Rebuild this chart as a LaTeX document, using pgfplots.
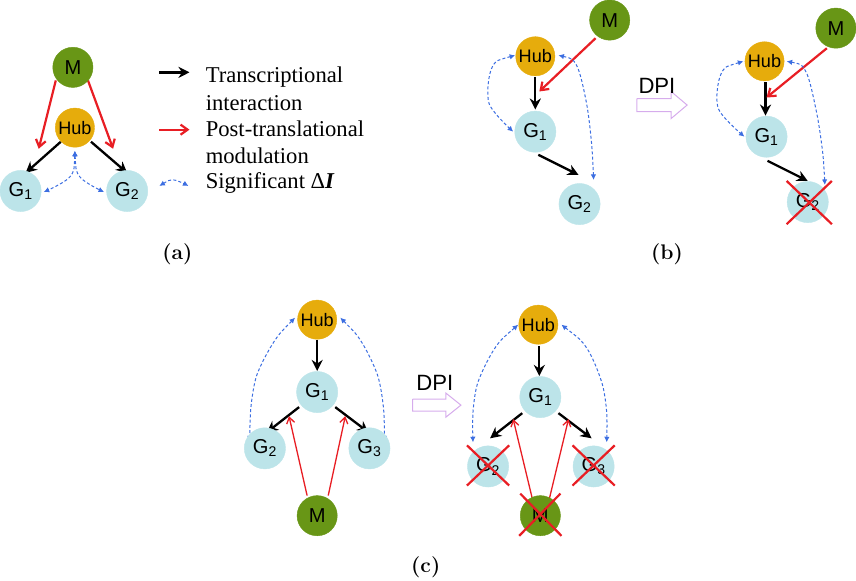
\documentclass[border=0pt]{standalone}
\usepackage{pgfplots}
\pgfplotsset{compat=1.18}
\usepackage{fontspec}
\usetikzlibrary{arrows.meta}
\newfontfamily\arial{Liberation Sans}
\newfontfamily\timesf{Liberation Serif}
\definecolor{mgreen}{RGB}{104,150,22}
\definecolor{hubcol}{RGB}{230,172,12}
\definecolor{gcol}{RGB}{188,228,233}
\definecolor{bluearr}{RGB}{60,110,225}
\definecolor{redarr}{RGB}{232,30,36}
\definecolor{dpicol}{RGB}{214,172,236}
\begin{document}
\begin{tikzpicture}
\begin{axis}[
  set layers=standard,
  scale only axis, width=856pt, height=584pt,
  xmin=0, xmax=856, ymin=0, ymax=584, y dir=reverse,
  hide axis, clip=false,
  blk/.style={black, line width=2.3pt, -{Stealth[length=11pt,width=11pt]}},
  blu/.style={bluearr, line width=1pt, dash pattern=on 3pt off 2.2pt, smooth, {Latex[length=5.5pt,width=5.5pt]}-{Latex[length=5.5pt,width=5.5pt]}},
  xmark/.style={redarr, line width=2.2pt, on layer=axis foreground},
  dpi/.style={dpicol, line width=1pt, line join=miter},
]
% ---------- arrows (drawn below nodes) ----------
% (a)
\addplot[draw=redarr, line width=2.2pt, -{Straight Barb[length=7pt,width=10pt]}] coordinates {(60,87) (43,155)};
\addplot[draw=redarr, line width=2.2pt, -{Straight Barb[length=7pt,width=10pt]}] coordinates {(92,87) (117,155)};
\addplot[blk] coordinates {(65,148) (30,179)};
\addplot[blk] coordinates {(95,148) (131,179)};
\addplot[blu] coordinates {(79,157) (74,183) (48,198)};
\addplot[blu] coordinates {(79,157) (84,183) (108,198)};
% legend
\addplot[blk] coordinates {(163,79) (193,79)};
\addplot[draw=redarr, line width=2.2pt, -{Straight Barb[length=7pt,width=10pt]}] coordinates {(163,136) (193,136)};
\addplot[blu] coordinates {(163,192) (177,186) (192,192)};
% (b) left
\addplot[blk] coordinates {(537,84) (537,116)};
\addplot[draw=redarr, line width=2.2pt, -{Straight Barb[length=7pt,width=10pt]}] coordinates {(597,45) (541,98)};
\addplot[blk] coordinates {(540,161) (580,181)};
\addplot[blu] coordinates {(517,62) (494,74) (491,110) (515,138)};
\addplot[blu] coordinates {(560,62) (578,72) (588,110) (593,150) (595,186)};
% (b) right
\addplot[blk] coordinates {(766,89) (766,122)};
\addplot[draw=redarr, line width=2.2pt, -{Straight Barb[length=7pt,width=10pt]}] coordinates {(827,55) (767,104)};
\addplot[blk] coordinates {(768,167) (808,187)};
\addplot[blu] coordinates {(744,68) (722,80) (719,115) (745,143)};
\addplot[blu] coordinates {(787,68) (806,78) (817,120) (823,160) (825,191)};
% (c) left
\addplot[blk] coordinates {(320,345) (320,376)};
\addplot[blk] coordinates {(302,412) (270,437)};
\addplot[blk] coordinates {(338,412) (371,437)};
\addplot[draw=redarr, line width=1.3pt, -{Straight Barb[length=6pt,width=8pt]}] coordinates {(310,500) (292,421)};
\addplot[draw=redarr, line width=1.3pt, -{Straight Barb[length=6pt,width=8pt]}] coordinates {(331,500) (348,421)};
\addplot[blu] coordinates {(298,323) (277,347) (260,380) (254,413) (253,446)};
\addplot[blu] coordinates {(343,323) (364,347) (380,380) (386,413) (387,446)};
% (c) right
\addplot[blk] coordinates {(541,351) (541,381)};
\addplot[blk] coordinates {(524,418) (492,443)};
\addplot[blk] coordinates {(560,418) (593,443)};
\addplot[draw=redarr, line width=1.3pt, -{Straight Barb[length=6pt,width=8pt]}] coordinates {(534,503) (515,424)};
\addplot[draw=redarr, line width=1.3pt, -{Straight Barb[length=6pt,width=8pt]}] coordinates {(551,503) (570,424)};
\addplot[blu] coordinates {(520,330) (497,353) (480,387) (475,417) (475,447)};
\addplot[blu] coordinates {(563,330) (588,353) (603,387) (608,417) (608,447)};
% ---------- nodes ----------
\addplot[only marks, mark=*, mark size=20pt, mgreen, mark options={fill=mgreen, draw=mgreen},
  point meta=explicit symbolic, nodes near coords, nodes near coords align=center,
  every node near coord/.append style={black, font=\arial\fontsize{20}{20}\selectfont, anchor=center, inner sep=0pt}]
  table[meta=label] {
x y label
77 74 M
611 27 M
836 35 M
320 520 M
542 520 M
};
\addplot[only marks, mark=*, mark size=19.5pt, hubcol, mark options={fill=hubcol, draw=hubcol},
  point meta=explicit symbolic, nodes near coords, nodes near coords align=center,
  every node near coord/.append style={black, font=\arial\fontsize{18}{18}\selectfont, anchor=center, inner sep=0pt}]
  table[meta=label] {
x y label
79 134 Hub
537 63 Hub
765 68 Hub
320 325 Hub
540 330 Hub
};
\addplot[only marks, mark=*, mark size=20.5pt, gcol, mark options={fill=gcol, draw=gcol},
  point meta=explicit symbolic, nodes near coords, nodes near coords align=center,
  every node near coord/.append style={black, font=\arial\fontsize{20}{20}\selectfont, anchor=center, inner sep=0pt}]
  table[meta=label] {
x y label
25 197 G\textsubscript{1}
131 197 G\textsubscript{2}
537 138 G\textsubscript{1}
581 210 G\textsubscript{2}
767 143 G\textsubscript{1}
808 208 G\textsubscript{2}
320 397 G\textsubscript{1}
268 453 G\textsubscript{2}
372 453 G\textsubscript{3}
542 402 G\textsubscript{1}
490 471 G\textsubscript{2}
595 471 G\textsubscript{3}
};
% ---------- red crosses ----------
\addplot[xmark] coordinates {(787,187) (832,230)};
\addplot[xmark] coordinates {(832,187) (787,230)};
\addplot[xmark] coordinates {(469,450) (511,490)};
\addplot[xmark] coordinates {(511,450) (469,490)};
\addplot[xmark] coordinates {(574,450) (616,490)};
\addplot[xmark] coordinates {(616,450) (574,490)};
\addplot[xmark] coordinates {(522,498) (563,540)};
\addplot[xmark] coordinates {(562,498) (521,540)};
% ---------- DPI hollow arrows ----------
\addplot[dpi] coordinates {(638,105) (672,105) (672,98) (688,111.5) (672,125) (672,118) (638,118) (638,105)};
\addplot[dpi] coordinates {(415,404) (448,404) (448,398) (463,410) (448,422) (448,416) (415,416) (415,404)};
\node[font=\arial\fontsize{22}{22}\selectfont] at (axis cs:658,92) {DPI};
\node[font=\arial\fontsize{22}{22}\selectfont] at (axis cs:437,388) {DPI};
% ---------- legend texts ----------
\node[anchor=base west, inner sep=0pt, font=\timesf\fontsize{22.5}{27}\selectfont] at (axis cs:209,89) {Transcriptional};
\node[anchor=base west, inner sep=0pt, font=\timesf\fontsize{22.5}{27}\selectfont] at (axis cs:209,117) {interaction};
\node[anchor=base west, inner sep=0pt, font=\timesf\fontsize{22.5}{27}\selectfont] at (axis cs:209,143) {Post-translational};
\node[anchor=base west, inner sep=0pt, font=\timesf\fontsize{22.5}{27}\selectfont] at (axis cs:209,170) {modulation};
\node[anchor=base west, inner sep=0pt, font=\timesf\fontsize{22.5}{27}\selectfont] at (axis cs:209,195) {Significant Δ\textbf{\textit{I}}};
% ---------- captions ----------
\node[font=\fontsize{21}{24}\selectfont] at (axis cs:181,260) {\textbf{(a)}};
\node[font=\fontsize{21}{24}\selectfont] at (axis cs:668,260) {\textbf{(b)}};
\node[font=\fontsize{21}{24}\selectfont] at (axis cs:428,571) {\textbf{(c)}};
\end{axis}
\end{tikzpicture}
\end{document}
